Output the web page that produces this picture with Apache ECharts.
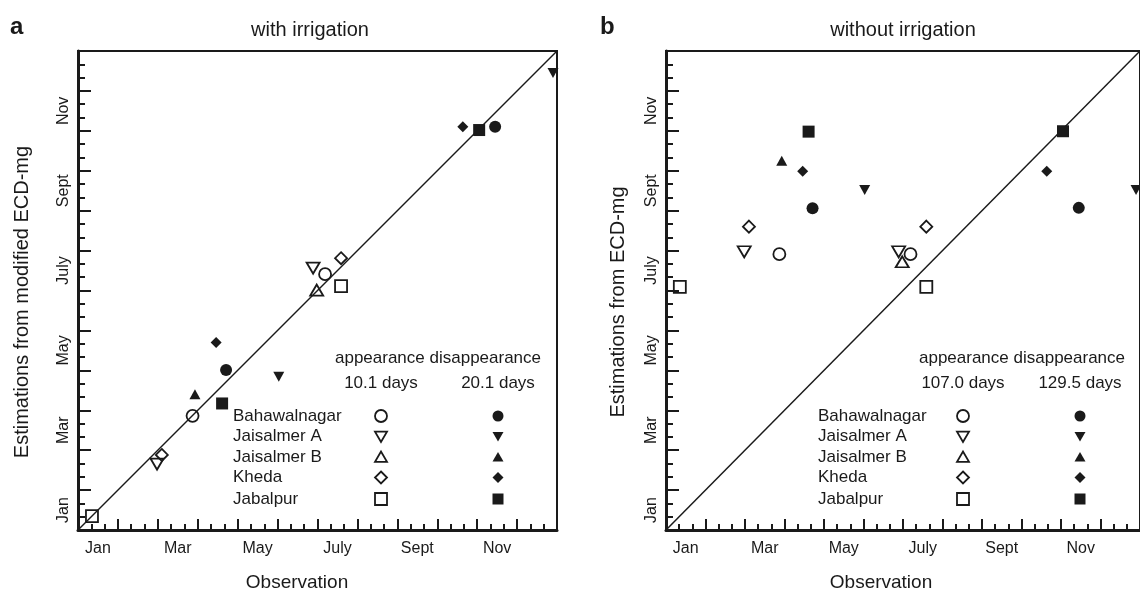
<!DOCTYPE html>
<html><head><meta charset="utf-8">
<script src="https://cdn.jsdelivr.net/npm/echarts@6/dist/echarts.min.js"></script>
<style>html,body{margin:0;padding:0;background:#fff}#c{width:1140px;height:599px}</style>
</head><body><div id="c"></div>
<script>
// ---------- DATA (month units from 1 Jan; 1 = one month) ----------
const monthLabels = ['Jan','Feb','Mar','Apr','May','June','July','Aug','Sept','Oct','Nov','Dec'];
const siteNames = ['Bahawalnagar','Jaisalmer A','Jaisalmer B','Kheda','Jabalpur'];
// observations (shared by both panels), one list per site
const obsAppearance    = [[2.87, 6.19], [1.98, 5.89], [5.98], [2.10, 6.59], [0.35, 6.59]];
const obsDisappearance = [[3.71, 10.45], [5.03, 11.90], [2.93], [3.46, 9.64], [3.61, 10.05]];
// panel a: estimations from modified ECD-mg (with irrigation)
const estAppearanceIrr    = [[2.86, 6.41], [1.65, 6.56], [6.01], [1.88, 6.81], [0.35, 6.11]];
const estDisappearanceIrr = [[4.01, 10.10], [3.84, 11.45], [3.40], [4.70, 10.10], [3.17, 10.02]];
// panel b: estimations from ECD-mg (without irrigation)
const estAppearanceRain    = [[6.91, 6.91], [6.97, 6.97], [6.72], [7.60, 7.60], [6.09, 6.09]];
const estDisappearanceRain = [[8.06, 8.07], [8.52, 8.52], [9.25], [8.99, 8.99], [9.98, 9.99]];
const identityLine = [[0, 0], [12, 12]];
const panelTitles = ['with irrigation', 'without irrigation'];
const panelLetters = ['a', 'b'];
const yAxisTitles = ['Estimations from modified ECD-mg', 'Estimations from ECD-mg'];
const xAxisTitle = 'Observation';
const legendHeader = 'appearance disappearance';
const errorTexts = [['10.1 days', '20.1 days'], ['107.0 days', '129.5 days']];

// ---------- STYLE ----------
const ink = '#1a1a1a';
const FONT = '"Liberation Sans", Arial, Helvetica, sans-serif';
const symbolShapes = ['circle', 'triangle', 'triangle', 'diamond', 'rect'];
const symbolRot = [0, 180, 0, 0, 0];
const openSizes = [12, [13, 11], [13, 11], 12, 12];
const fillSizes = [12, [11, 10], [11, 10], 11, 12];

const grids = [
  {left: 78, top: 51, width: 479, height: 479},
  {left: 666, top: 51, width: 479, height: 479}
];

const xAxes = [], yAxes = [], series = [];
function valueAxis(gi, isX) {
  return {
    type: 'value', gridIndex: gi, min: 0, max: 12, interval: 1,
    position: isX ? 'bottom' : 'left',
    axisLine: {show: true, onZero: false, lineStyle: {color: ink, width: 3}},
    axisTick: {show: true, inside: true, length: isX ? 11 : 13, lineStyle: {color: ink, width: 2}},
    minorTick: {show: true, splitNumber: 3, length: isX ? 6 : 7, lineStyle: {color: ink, width: 2}},
    axisLabel: {show: false}, splitLine: {show: false}, minorSplitLine: {show: false}
  };
}
function catAxis(gi, isX) {
  return {
    type: 'category', gridIndex: gi, data: monthLabels, boundaryGap: true,
    position: isX ? 'bottom' : 'left',
    axisLine: {show: false}, axisTick: {show: false}, splitLine: {show: false},
    axisLabel: {interval: 1, margin: isX ? 11 : 6, rotate: isX ? 0 : 90,
      fontSize: 16, color: ink, fontFamily: FONT}
  };
}
const panelData = [
  [estAppearanceIrr, estDisappearanceIrr],
  [estAppearanceRain, estDisappearanceRain]
];
grids.forEach((g, gi) => {
  xAxes.push(valueAxis(gi, true)); xAxes.push(catAxis(gi, true));
  yAxes.push(valueAxis(gi, false)); yAxes.push(catAxis(gi, false));
  series.push({
    type: 'line', xAxisIndex: 2 * gi, yAxisIndex: 2 * gi, data: identityLine,
    symbol: 'none', silent: true, z: 1, lineStyle: {color: ink, width: 1.5}
  });
  siteNames.forEach((name, si) => {
    series.push({
      type: 'scatter', name: name + ' appearance', xAxisIndex: 2 * gi, yAxisIndex: 2 * gi,
      data: obsAppearance[si].map((x, k) => [x, panelData[gi][0][si][k]]),
      symbol: symbolShapes[si], symbolRotate: symbolRot[si], symbolSize: openSizes[si],
      itemStyle: {color: 'rgba(255,255,255,0)', borderColor: ink, borderWidth: 1.8, opacity: 1}, z: 3
    });
    series.push({
      type: 'scatter', name: name + ' disappearance', xAxisIndex: 2 * gi, yAxisIndex: 2 * gi,
      data: obsDisappearance[si].map((x, k) => [x, panelData[gi][1][si][k]]),
      symbol: symbolShapes[si], symbolRotate: symbolRot[si], symbolSize: fillSizes[si],
      itemStyle: {color: ink, borderWidth: 0, opacity: 1}, z: 3
    });
  });
});

// ---------- GRAPHIC TEXT + LEGEND TABLE ----------
const graphic = [];
function txt(x, y, s, opt) {
  graphic.push(Object.assign({type: 'text', x: x, y: y, silent: true,
    style: Object.assign({text: s, fill: ink, font: '17px ' + FONT,
      textAlign: 'center', textVerticalAlign: 'middle'}, opt && opt.style)}, opt && opt.el));
}
function legendSymbol(si, cx, cy, filled) {
  const st = filled ? {fill: ink, stroke: null} : {fill: 'none', stroke: ink, lineWidth: 1.8};
  const s = filled ? 5.5 : 6;
  let el;
  if (si === 0) el = {type: 'circle', shape: {cx: cx, cy: cy, r: s}};
  else if (si === 4) el = {type: 'rect', shape: {x: cx - s, y: cy - s, width: 2 * s, height: 2 * s}};
  else if (si === 3) el = {type: 'polygon', shape: {points: [[cx, cy - s], [cx + s, cy], [cx, cy + s], [cx - s, cy]]}};
  else if (si === 1) el = {type: 'polygon', shape: {points: [[cx - s, cy - s * 0.8], [cx + s, cy - s * 0.8], [cx, cy + s * 0.9]]}};
  else el = {type: 'polygon', shape: {points: [[cx - s, cy + s * 0.8], [cx + s, cy + s * 0.8], [cx, cy - s * 0.9]]}};
  el.style = st; el.silent = true;
  graphic.push(el);
}
const legendLayout = [
  {labelX: 233, openX: 381, fillX: 498, headX: 438},
  {labelX: 818, openX: 963, fillX: 1080, headX: 1022}
];
const rowY = [416, 436.5, 457, 477.5, 499];
[0, 1].forEach(p => {
  const L = legendLayout[p];
  txt(p === 0 ? 10 : 600, 27, panelLetters[p], {style: {font: 'bold 24px ' + FONT, textAlign: 'left'}});
  txt(p === 0 ? 310 : 903, 30, panelTitles[p], {style: {font: '20px ' + FONT}});
  txt(p === 0 ? 297 : 881, 583, xAxisTitle, {style: {font: '19px ' + FONT}});
  txt(0, 0, yAxisTitles[p], {style: {font: '20px ' + FONT}, el: {x: p === 0 ? 22 : 618, y: 302, rotation: Math.PI / 2}});
  txt(L.headX, 358, legendHeader, {});
  txt(L.openX, 383, errorTexts[p][0], {});
  txt(L.fillX, 383, errorTexts[p][1], {});
  siteNames.forEach((n, si) => {
    txt(L.labelX, rowY[si], n, {style: {textAlign: 'left'}});
    legendSymbol(si, L.openX, rowY[si], false);
    legendSymbol(si, L.fillX, rowY[si], true);
  });
});

const chart = echarts.init(document.getElementById('c'), null, {renderer: 'canvas'});
chart.setOption({
  animation: false,
  backgroundColor: '#fff',
  grid: grids.map(g => Object.assign({show: true, borderColor: ink, borderWidth: 2, backgroundColor: 'transparent', containLabel: false}, g)),
  xAxis: xAxes, yAxis: yAxes, series: series, graphic: graphic
});
</script></body></html>
